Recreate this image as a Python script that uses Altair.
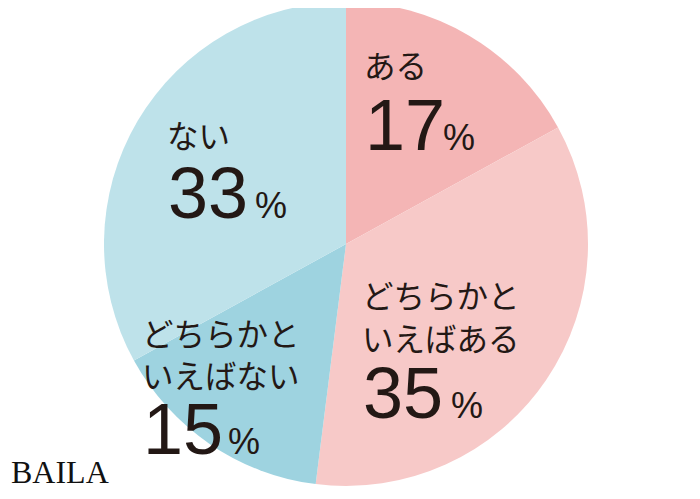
import altair as alt
import pandas as pd

# ---- data ----
categories = ["ある", "どちらかといえばある", "どちらかといえばない", "ない"]
label_lines = [["ある"], ["どちらかと", "いえばある"], ["どちらかと", "いえばない"], ["ない"]]
values = [17, 35, 15, 33]
colors = ["#f4b5b5", "#f7c9c8", "#9ed3e0", "#bee2ea"]

# ---- layout (page pixels inside the svg) ----
W, H = 684, 483
CX, CY, R = 338, 236, 242
label_x = [356, 354, 134, 159]
label_base = [[70], [300, 343], [338, 380], [140]]
num_base = [142, 410, 446, 210]
pct_x = [435, 443, 220, 247]

pie_df = pd.DataFrame({"cat": categories, "v": values, "order": list(range(len(values)))})

jp_rows, num_rows, pct_rows = [], [], []
for i, v in enumerate(values):
    for line, yb in zip(label_lines[i], label_base[i]):
        jp_rows.append({"t": line, "x": label_x[i], "y": yb})
    num_rows.append({"t": str(v), "x": label_x[i] + 1, "y": num_base[i]})
    pct_rows.append({"t": "%", "x": pct_x[i], "y": num_base[i]})

pie = alt.Chart(pie_df).mark_arc(stroke=None).encode(
    theta=alt.Theta("v:Q", stack=True),
    order=alt.Order("order:Q"),
    color=alt.Color("cat:N", scale=alt.Scale(domain=categories, range=colors), legend=None),
    x=alt.value(CX), y=alt.value(CY), radius=alt.value(R),
)

def text_layer(rows, font, size, weight="normal"):
    return alt.Chart(pd.DataFrame(rows)).mark_text(
        align="left", baseline="alphabetic", font=font, fontSize=size,
        fontWeight=weight, color="#231815"
    ).encode(
        x=alt.X("x:Q", scale=None), y=alt.Y("y:Q", scale=None), text="t:N"
    )

jp = text_layer(jp_rows, "Noto Sans CJK JP", 31.5)
num = text_layer(num_rows, "Liberation Sans", 72)
pct = text_layer(pct_rows, "Liberation Sans", 36)
logo = alt.Chart(pd.DataFrame([{"t": "BAILA", "x": 3, "y": 475}])).mark_text(
    align="left", baseline="alphabetic", font="Liberation Serif", fontSize=32,
    color="#111111"
).encode(x=alt.X("x:Q", scale=None), y=alt.Y("y:Q", scale=None), text="t:N")

chart = alt.layer(pie, jp, num, pct, logo).properties(
    width=W, height=H, autosize="none", padding=0
).configure_view(stroke=None)

chart.save("out.html", embed_options={"renderer": "svg", "actions": False})
